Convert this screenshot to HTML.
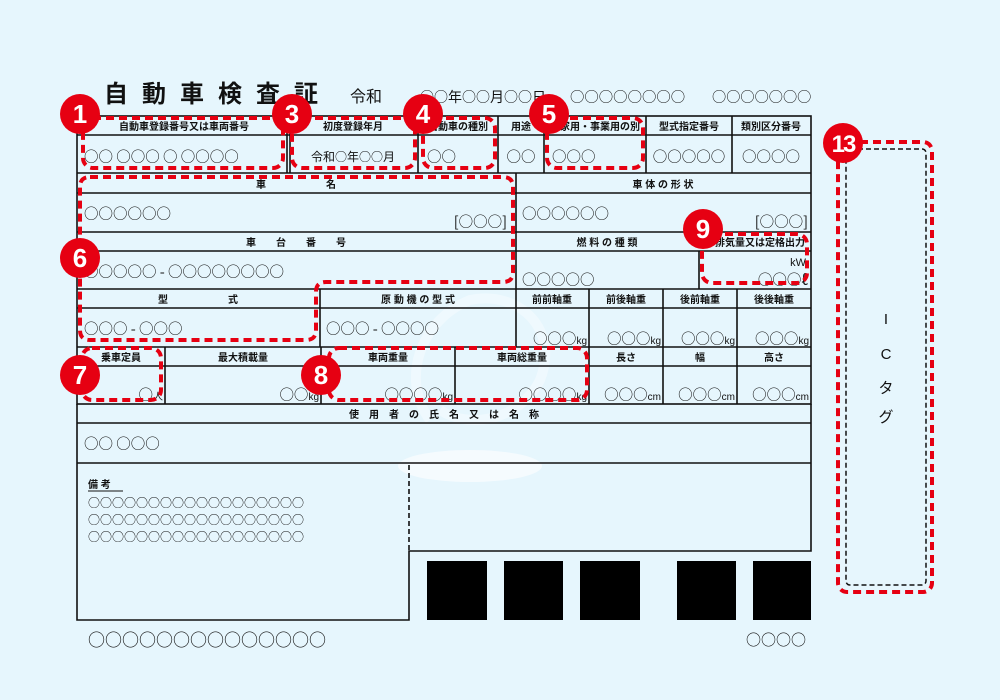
<!DOCTYPE html>
<html><head><meta charset="utf-8"><style>
html,body{margin:0;padding:0;background:#e6f6fd;}
svg{display:block;}
text{font-family:"Liberation Sans","Noto Sans CJK JP",sans-serif;fill:#111;}
.l{font-size:10px;font-weight:bold;}
.v{font-size:14.5px;font-family:"Noto Sans CJK JP",sans-serif;}
.s{font-size:12px;font-family:"Noto Sans CJK JP",sans-serif;}
.u{font-family:"Liberation Sans",sans-serif;font-size:10px;}
.n{font-family:"Liberation Sans",sans-serif;font-size:26px;font-weight:bold;fill:#fff;}
</style></head><body>
<svg width="1000" height="700" viewBox="0 0 1000 700" xmlns="http://www.w3.org/2000/svg">
<rect width="1000" height="700" fill="#e6f6fd"/>
<!-- watermark -->
<ellipse cx="470" cy="466" rx="72" ry="16" fill="#fff" opacity="0.6"/>
<path d="M430 420 C400 380 420 320 470 300 C520 290 560 330 540 380 C520 420 470 430 440 410" fill="none" stroke="#fff" stroke-width="10" opacity="0.35"/>

<!-- title -->
<text x="104" y="102" style="font-size:24px;font-weight:bold;letter-spacing:14px">自動車検査証</text>
<text x="350" y="102" style="font-size:16px">令和</text>
<text x="420" y="102" class="v" style="font-size:14px">○○年○○月○○日</text>
<text x="570" y="102" class="v" style="font-size:14.4px">○○○○○○○○</text>
<text x="712" y="102" class="v" style="font-size:14.2px">○○○○○○○</text>

<g stroke="#111" stroke-width="1.6" fill="none">
<rect x="77" y="116" width="734" height="288"/>
<line x1="77" y1="135" x2="811" y2="135"/>
<line x1="77" y1="173" x2="811" y2="173"/>
<line x1="287" y1="116" x2="287" y2="173"/><line x1="290" y1="116" x2="290" y2="173"/>
<line x1="418" y1="116" x2="418" y2="173"/>
<line x1="498" y1="116" x2="498" y2="173"/>
<line x1="544" y1="116" x2="544" y2="173"/>
<line x1="646" y1="116" x2="646" y2="173"/>
<line x1="732" y1="116" x2="732" y2="173"/>
<line x1="77" y1="193" x2="811" y2="193"/>
<line x1="77" y1="232" x2="811" y2="232"/>
<line x1="77" y1="251" x2="811" y2="251"/>
<line x1="77" y1="289" x2="811" y2="289"/>
<line x1="516" y1="173" x2="516" y2="347"/>
<line x1="699" y1="251" x2="699" y2="289"/>
<line x1="77" y1="308" x2="811" y2="308"/>
<line x1="77" y1="347" x2="811" y2="347"/>
<line x1="320" y1="289" x2="320" y2="347"/>
<line x1="589" y1="289" x2="589" y2="404"/>
<line x1="663" y1="289" x2="663" y2="404"/>
<line x1="737" y1="289" x2="737" y2="404"/>
<line x1="77" y1="366" x2="811" y2="366"/>
<line x1="165" y1="347" x2="165" y2="404"/>
<line x1="321" y1="347" x2="321" y2="404"/>
<line x1="455" y1="347" x2="455" y2="404"/>
<polyline points="77,404 77,620 409,620 409,551 811,551 811,404"/>
<line x1="77" y1="423" x2="811" y2="423"/>
<line x1="77" y1="463" x2="811" y2="463"/>
<line x1="409" y1="465" x2="409" y2="550" stroke-dasharray="5,3"/>
<line x1="88" y1="491" x2="123" y2="491" stroke-width="1"/>
</g>
<g fill="#000">
<rect x="427" y="561" width="60" height="59"/>
<rect x="504" y="561" width="59" height="59"/>
<rect x="580" y="561" width="60" height="59"/>
<rect x="677" y="561" width="59" height="59"/>
<rect x="753" y="561" width="58" height="59"/>
</g>

<g class="l" text-anchor="middle">
<text x="184" y="130" class="l">自動車登録番号又は車両番号</text>
<text x="353" y="130" class="l">初度登録年月</text>
<text x="458" y="130" class="l">自動車の種別</text>
<text x="521" y="130" class="l">用途</text>
<text x="595" y="130" class="l">自家用・事業用の別</text>
<text x="689" y="130" class="l">型式指定番号</text>
<text x="771" y="130" class="l">類別区分番号</text>
<text x="296" y="188" class="l" xml:space="preserve">車　　　　　　名</text>
<text x="663" y="188" class="l">車 体 の 形 状</text>
<text x="296" y="246" class="l" xml:space="preserve">車　　台　　番　　号</text>
<text x="607" y="246" class="l">燃 料 の 種 類</text>
<text x="760" y="246" class="l">排気量又は定格出力</text>
<text x="198" y="303" class="l" xml:space="preserve">型　　　　　　式</text>
<text x="418" y="303" class="l">原 動 機 の 型 式</text>
<text x="552" y="303" class="l">前前軸重</text>
<text x="626" y="303" class="l">前後軸重</text>
<text x="700" y="303" class="l">後前軸重</text>
<text x="774" y="303" class="l">後後軸重</text>
<text x="121" y="361" class="l">乗車定員</text>
<text x="243" y="361" class="l">最大積載量</text>
<text x="388" y="361" class="l">車両重量</text>
<text x="522" y="361" class="l">車両総重量</text>
<text x="626" y="361" class="l">長さ</text>
<text x="700" y="361" class="l">幅</text>
<text x="774" y="361" class="l">高さ</text>
<text x="444" y="418" class="l" xml:space="preserve">使　用　者　の　氏　名　又　は　名　称</text>
</g>

<text x="84" y="162" class="v" xml:space="preserve">○○ ○○○ ○ ○○○○</text>
<text x="353" y="161" class="s" text-anchor="middle">令和○年○○月</text>
<text x="427" y="162" class="v">○○</text>
<text x="521" y="162" class="v" text-anchor="middle">○○</text>
<text x="552" y="162" class="v">○○○</text>
<text x="689" y="162" class="v" text-anchor="middle">○○○○○</text>
<text x="771" y="162" class="v" text-anchor="middle">○○○○</text>
<text x="84" y="219" class="v">○○○○○○</text>
<text x="507" y="227" class="v" text-anchor="end">[○○○]</text>
<text x="522" y="219" class="v">○○○○○○</text>
<text x="808" y="227" class="v" text-anchor="end">[○○○]</text>
<text x="84" y="277" class="v">○○○○○ - ○○○○○○○○</text>
<text x="522" y="285" class="v">○○○○○</text>
<text x="806" y="266" style="font-size:11px" text-anchor="end">kW</text>
<text x="808" y="285" class="v" text-anchor="end">○○○ℓ</text>
<text x="84" y="334" class="v">○○○ - ○○○</text>
<text x="326" y="334" class="v">○○○ - ○○○○</text>
<text x="587" y="344" class="v" text-anchor="end">○○○<tspan class="u">kg</tspan></text>
<text x="661" y="344" class="v" text-anchor="end">○○○<tspan class="u">kg</tspan></text>
<text x="735" y="344" class="v" text-anchor="end">○○○<tspan class="u">kg</tspan></text>
<text x="809" y="344" class="v" text-anchor="end">○○○<tspan class="u">kg</tspan></text>
<text x="163" y="400" class="v" text-anchor="end">○<tspan style="font-size:10px">人</tspan></text>
<text x="319" y="400" class="v" text-anchor="end">○○<tspan class="u">kg</tspan></text>
<text x="453" y="400" class="v" text-anchor="end">○○○○<tspan class="u">kg</tspan></text>
<text x="587" y="400" class="v" text-anchor="end">○○○○<tspan class="u">kg</tspan></text>
<text x="661" y="400" class="v" text-anchor="end">○○○<tspan class="u">cm</tspan></text>
<text x="735" y="400" class="v" text-anchor="end">○○○<tspan class="u">cm</tspan></text>
<text x="809" y="400" class="v" text-anchor="end">○○○<tspan class="u">cm</tspan></text>
<text x="84" y="449" class="v">○○ ○○○</text>
<text x="88" y="488" class="l">備 考</text>
<text x="88" y="507" class="s">○○○○○○○○○○○○○○○○○○</text>
<text x="88" y="524" class="s">○○○○○○○○○○○○○○○○○○</text>
<text x="88" y="541" class="s">○○○○○○○○○○○○○○○○○○</text>
<text x="88" y="646" class="v" style="font-size:17px">○○○○○○○○○○○○○○</text>
<text x="806" y="645" class="v" text-anchor="end" style="font-size:15px">○○○○</text>

<rect x="846" y="149" width="80" height="436" rx="4" fill="none" stroke="#111" stroke-width="1.5" stroke-dasharray="5,3"/>
<g text-anchor="middle">
<text x="886" y="324" style="font-size:15px">I</text>
<text x="886" y="359" style="font-size:15px">C</text>
<text x="886" y="393" style="font-size:15px">タ</text>
<text x="886" y="422" style="font-size:15px">グ</text>
</g>

<g fill="none" stroke="#e60012" stroke-width="4" stroke-dasharray="8,5">
<rect x="83" y="118" width="200" height="50" rx="10"/>
<rect x="292" y="118" width="123" height="50" rx="10"/>
<rect x="423" y="118" width="72" height="50" rx="10"/>
<rect x="547" y="118" width="96" height="50" rx="10"/>
<path d="M90 177 H503 Q513 177 513 187 V272 Q513 282 503 282 H326 Q316 282 316 292 V330 Q316 340 306 340 H90 Q80 340 80 330 V187 Q80 177 90 177 Z"/>
<rect x="82" y="348" width="79" height="52" rx="10"/>
<rect x="329" y="348" width="258" height="52" rx="10"/>
<rect x="702" y="234" width="105" height="49" rx="10"/>
<rect x="838" y="142" width="94" height="450" rx="9"/>
</g>

<g fill="#e60012">
<circle cx="80" cy="114" r="20"/><circle cx="292" cy="114" r="20"/><circle cx="423" cy="114" r="20"/><circle cx="549" cy="114" r="20"/>
<circle cx="80" cy="258" r="20"/><circle cx="80" cy="375" r="20"/><circle cx="321" cy="375" r="20"/><circle cx="703" cy="229" r="20"/><circle cx="843" cy="143" r="20"/>
</g>
<g text-anchor="middle">
<text x="80" y="123" class="n">1</text>
<text x="292" y="123" class="n">3</text>
<text x="423" y="123" class="n">4</text>
<text x="549" y="123" class="n">5</text>
<text x="80" y="267" class="n">6</text>
<text x="80" y="384" class="n">7</text>
<text x="321" y="384" class="n">8</text>
<text x="703" y="238" class="n">9</text>
<text x="843" y="152" class="n" style="font-size:24px;letter-spacing:-2px">13</text>
</g>
</svg>
</body></html>
